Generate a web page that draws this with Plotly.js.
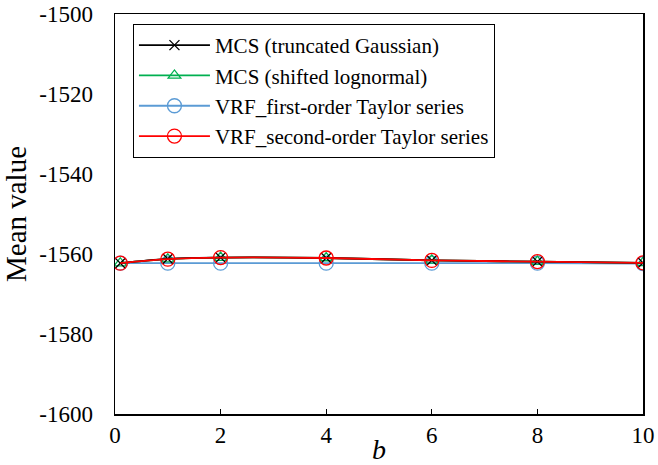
<!DOCTYPE html>
<html>
<head>
<meta charset="utf-8">
<script src="https://cdn.plot.ly/plotly-3.0.1.min.js"></script>
<style>html,body{margin:0;padding:0;background:#fff;}#chart{width:658px;height:465px;}</style>
</head>
<body>
<div id="chart"></div>
<script>
const bValues = [0.1, 1, 2, 4, 6, 8, 10];
const mcsTruncGauss = [-1562.3, -1561.2, -1560.9, -1561.0, -1561.6, -1561.9, -1562.2];
const mcsShiftLogn  = [-1562.3, -1561.3, -1560.9, -1561.0, -1561.6, -1561.9, -1562.2];
const vrfFirst      = [-1562.3, -1562.3, -1562.3, -1562.3, -1562.3, -1562.3, -1562.4];
const vrfSecond     = [-1562.3, -1561.3, -1560.9, -1561.0, -1561.6, -1561.9, -1562.2];
const names = ['MCS (truncated Gaussian)', 'MCS (shifted lognormal)', 'VRF_first-order Taylor series', 'VRF_second-order Taylor series'];
const yTicks = [-1600, -1580, -1560, -1540, -1520, -1500];
const xTicks = [0, 2, 4, 6, 8, 10];

const font = 'Liberation Serif, Times New Roman, serif';
function tr(y, name, color, symbol, size, rank) {
  return {x: bValues, y: y, name: name, type: 'scatter', mode: 'lines+markers', legendrank: rank,
    line: {color: color, width: 1.8, shape: 'spline'},
    marker: {symbol: symbol, size: size, color: color, line: {color: color, width: 1.3}}};
}
const data = [
  tr(vrfFirst, names[2], '#5b9bd5', 'circle-open', 14, 3),
  tr(mcsShiftLogn, names[1], '#00b050', 'triangle-up-open', 11, 2),
  tr(mcsTruncGauss, names[0], '#000000', 'x-thin-open', 10, 1),
  tr(vrfSecond, names[3], '#ff0000', 'circle-open', 14, 4)
];

const axLine = {showline: true, linecolor: '#000', linewidth: 1.5, showgrid: false, zeroline: false};
const layout = {
  width: 658, height: 465,
  margin: {l: 115, r: 15, t: 14, b: 51},
  paper_bgcolor: '#fff', plot_bgcolor: '#fff',
  font: {family: font, size: 22, color: '#000'},
  showlegend: true,
  legend: {x: 0.034, y: 0.975, xanchor: 'left', yanchor: 'top', bordercolor: '#000', borderwidth: 1,
    bgcolor: '#fff', font: {family: font, size: 21, color: '#000'}, tracegroupgap: 0, traceorder: 'normal', itemwidth: 71},
  xaxis: Object.assign({range: [0, 10], tickvals: xTicks, ticks: 'inside', ticklen: 5, tickcolor: '#000', mirror: true,
    tickfont: {family: font, size: 23},
    title: {text: '<i>b</i>', font: {family: font, size: 28}, standoff: 0}}, axLine),
  yaxis: Object.assign({range: [-1600, -1500], tickvals: yTicks, ticktext: yTicks.map(String),
    ticks: 'outside', ticklen: 16, tickcolor: 'rgba(0,0,0,0)', mirror: true,
    tickfont: {family: font, size: 23},
    title: {text: 'Mean value', font: {family: font, size: 29}, standoff: 6}}, axLine),
  yaxis2: Object.assign({range: [-1600, -1500], tickvals: yTicks, overlaying: 'y', side: 'left', anchor: 'x',
    ticks: 'inside', ticklen: 5, tickcolor: '#000', showticklabels: false, mirror: true}, axLine)
};
Plotly.newPlot('chart', data, layout, {displayModeBar: false, staticPlot: true});
</script>
</body>
</html>
